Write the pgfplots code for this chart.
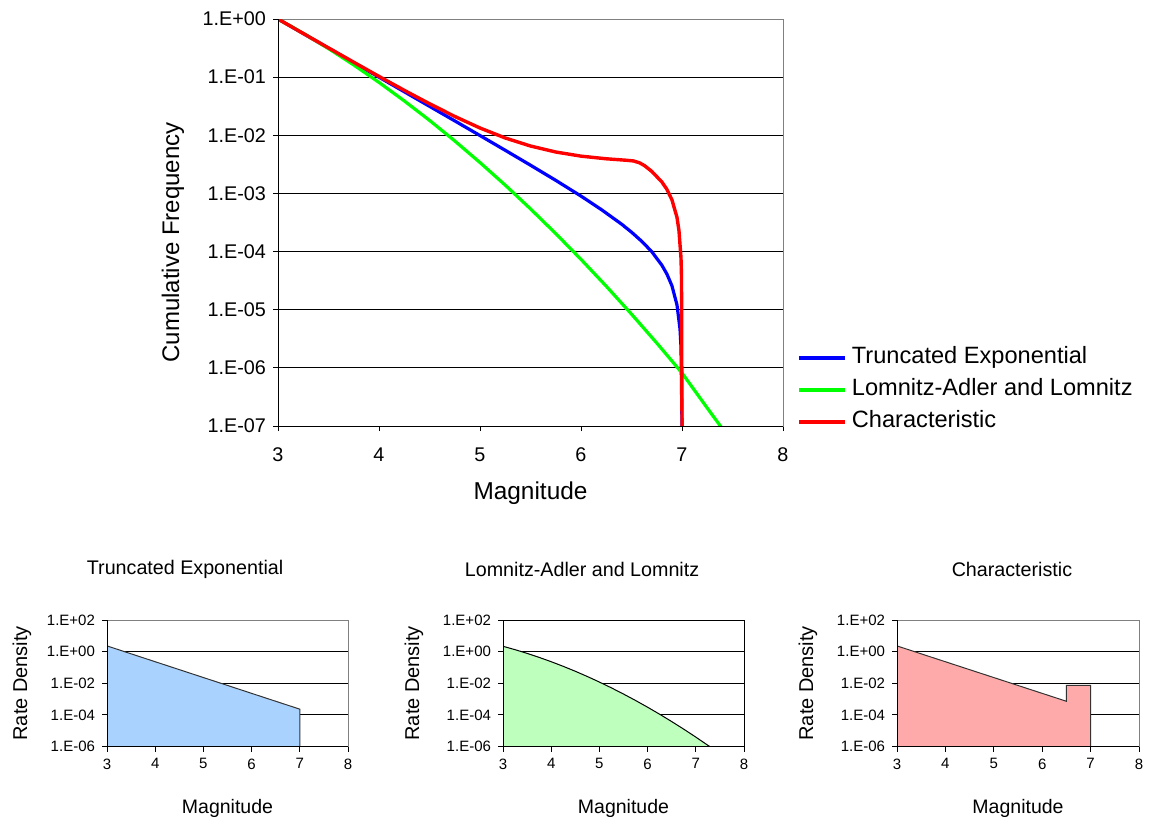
\documentclass[border=0pt]{standalone}
\usepackage{pgfplots}
\pgfplotsset{compat=1.18}
\usepackage{fontspec}
\setmainfont{Liberation Sans}
\definecolor{cblue}{RGB}{0,0,255}
\definecolor{cgreen}{RGB}{0,255,0}
\definecolor{cred}{RGB}{255,0,0}
\definecolor{fblue}{RGB}{170,210,255}
\definecolor{fgreen}{RGB}{190,255,190}
\definecolor{fred}{RGB}{255,170,170}
\definecolor{bordergray}{RGB}{128,128,128}

\pgfplotsset{
  excelbase/.style={
    scale only axis,
    xmin=3, xmax=8,
    xtick={3,4,5,6,7,8}, xticklabels={3,4,5,6,7,8},
    tick pos=left, tick align=outside,
    major tick length=2.5pt,
    yminorticks=false, xminorticks=false,
    every tick/.style={black, line width=0.5pt},
    ymajorgrids, major grid style={black, line width=0.5pt},
    axis line style={bordergray, line width=0.5pt},
    after end axis/.code={\draw[black, line width=0.5pt] (rel axis cs:0,1) -- (rel axis cs:0,0) -- (rel axis cs:1,0);},
  },
  smallax/.style={
    excelbase,
    width=120.5pt, height=63.25pt,
    ymin=1e-6, ymax=100,
    ytick={1e-6,1e-4,1e-2,1,100},
    yticklabels={1.E-06,1.E-04,1.E-02,1.E+00,1.E+02},
    tick label style={font=\fontsize{7.5}{9}\selectfont},
    xlabel={Magnitude}, ylabel={Rate Density},
    xlabel style={at={(axis description cs:0.5,-0.486)}, anchor=center, font=\fontsize{9.75}{11}\selectfont},
    title style={anchor=center, font=\fontsize{9.85}{11}\selectfont},
  },
}

\begin{document}
\begin{tikzpicture}
\path[use as bounding box] (0,0) rectangle (574.5pt,408pt);

% ---------------- main chart ----------------
\begin{axis}[
  ymode=log,
  excelbase,
  at={(139pt,195pt)}, anchor=south west,
  width=252.5pt, height=203.5pt,
  ymin=1e-7, ymax=1,
  ytick={1e-7,1e-6,1e-5,1e-4,1e-3,1e-2,1e-1,1},
  yticklabels={1.E-07,1.E-06,1.E-05,1.E-04,1.E-03,1.E-02,1.E-01,1.E+00},
  tick label style={font=\fontsize{9.9}{11}\selectfont},
  xticklabel style={yshift=-5pt},
  xlabel={Magnitude}, ylabel={Cumulative Frequency},
  xlabel style={at={(axis description cs:0.5,-0.165)}, anchor=center, font=\fontsize{12.2}{14}\selectfont},
  ylabel style={at={(axis description cs:-0.208,0.451)}, anchor=center, font=\fontsize{12}{14}\selectfont},
  legend style={at={(axis description cs:1.028,0.2074)}, anchor=north west, draw=none, fill=none,
    font=\fontsize{11.8}{14}\selectfont, row sep=0pt, column sep=2.5pt, inner sep=0pt,
    nodes={inner sep=0pt, text height=10.75pt, text depth=5.25pt}},
  legend cell align=left,
  legend image code/.code={\draw[#1] (0pt,0pt) -- (23pt,0pt);},
]
\addplot[cblue, line width=1.6pt] coordinates {
 (3.0,1.0) (3.25,0.562) (3.5,0.316) (3.75,0.1777) (4.0,0.0999) (4.25,0.0561)
 (4.5,0.0315) (4.75,0.0177) (5.0,0.0099) (5.25,0.00552) (5.5,0.00306)
 (5.75,0.00168) (6.0,0.0009) (6.2,0.00053) (6.4,0.000298) (6.5,0.000216)
 (6.6,0.000151) (6.7,0.0001) (6.8,5.85e-5) (6.85,4.13e-5) (6.9,2.59e-5)
 (6.95,1.22e-5) (6.98,4.7e-6) (6.99,2.3e-6) (7.0,1e-7)
};
\addlegendentry{Truncated Exponential}
\addplot[cgreen, line width=1.6pt] coordinates {
 (3.0,1.0) (3.25,0.568) (3.5,0.310) (3.75,0.162) (4.0,0.0813) (4.25,0.0391)
 (4.5,0.0181) (4.75,0.00801) (5.0,0.0034) (5.25,0.00139) (5.5,5.43e-4)
 (5.75,2.04e-4) (6.0,7.35e-5) (6.25,2.54e-5) (6.5,8.41e-6) (6.75,2.68e-6)
 (7.0,8.17e-7) (7.25,2.04e-7) (7.5,5.2e-8)
};
\addlegendentry{Lomnitz-Adler and Lomnitz}
\addplot[cred, line width=1.7pt] coordinates {
 (3.0,1.0) (3.25,0.5638) (3.5,0.3185) (3.75,0.1806) (4.0,0.1030) (4.25,0.0594)
 (4.5,0.03491) (4.75,0.02111) (5.0,0.01335) (5.25,0.00899) (5.5,0.00654)
 (5.75,0.00516) (6.0,0.00438) (6.25,0.003945) (6.45,0.00372) (6.52,0.00362) (6.58,0.00336) (6.63,0.00300)
 (6.7,0.00240) (6.8,0.00158) (6.85,0.00118) (6.9,0.00078) (6.95,0.00039)
 (6.97,0.000230) (6.99,0.000078) (6.995,0.000038) (7.0,1e-7)
};
\addlegendentry{Characteristic}
\end{axis}

% ---------------- small chart 1 ----------------
\begin{axis}[
  ymode=log,
  smallax,
  at={(53.5pt,34.75pt)}, anchor=south west,
  title={Truncated Exponential},
  title style={at={(axis description cs:0.324,1.308)}},
  ylabel style={at={(axis description cs:-0.353,0.5)}, anchor=center, font=\fontsize{10}{12}\selectfont},
]
\addplot[draw=black!80, line width=0.5pt, fill=fblue] coordinates {
 (3.0,1e-6) (3.0,2.303) (4.0,0.2303) (5.0,0.02303) (6.0,0.002303) (7.0,2.303e-4) (7.0,1e-6)
};
\end{axis}

% ---------------- small chart 2 ----------------
\begin{axis}[
  ymode=log,
  smallax,
  at={(251.5pt,34.75pt)}, anchor=south west,
  axis line style={black, line width=0.5pt},
  title={Lomnitz-Adler and Lomnitz},
  title style={at={(axis description cs:0.328,1.308)}},
  ylabel style={at={(axis description cs:-0.369,0.5)}, anchor=center, font=\fontsize{10}{12}\selectfont},
]
\addplot[draw=black, line width=0.5pt, fill=fgreen] coordinates {
 (3.0,1e-6) (3.0,2.18) (3.25,1.331) (3.5,0.778) (3.75,0.4335) (4.0,0.231)
 (4.25,0.1176) (4.5,0.0574) (4.75,0.02675) (5.0,0.01192) (5.25,0.0051)
 (5.5,2.083e-3) (5.75,8.16e-4) (6.0,3.06e-4) (6.25,1.10e-4) (6.5,3.78e-5)
 (6.75,1.25e-5) (7.0,3.95e-6) (7.25,1.19e-6) (7.29,1.0e-6) (8.0,1.0e-6)
};
\end{axis}

% ---------------- small chart 3 ----------------
\begin{axis}[
  ymode=log,
  smallax,
  at={(448.5pt,34.75pt)}, anchor=south west,
  width=121pt,
  title={Characteristic},
  title style={at={(axis description cs:0.475,1.308)}},
  ylabel style={at={(axis description cs:-0.368,0.5)}, anchor=center, font=\fontsize{10}{12}\selectfont},
]
\addplot[draw=black!80, line width=0.5pt, fill=fred] coordinates {
 (3.0,1e-6) (3.0,2.295) (3.5,0.7257) (4.0,0.2295) (4.5,0.07257) (5.0,0.02295)
 (5.5,0.007257) (6.0,0.002295) (6.5,7.257e-4) (6.5,7.4e-3) (7.0,7.4e-3) (7.0,1e-6)
};
\end{axis}
\end{tikzpicture}
\end{document}
